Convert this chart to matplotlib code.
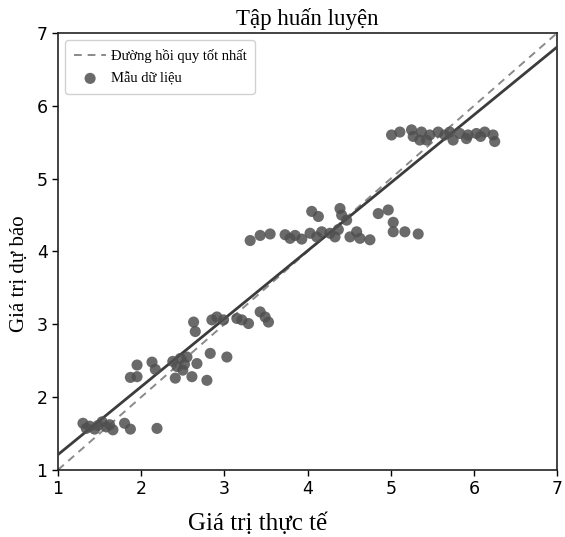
import matplotlib
matplotlib.use("Agg")
import matplotlib.pyplot as plt
import numpy as np

# ---- data ----
actual = [1.30, 1.34, 1.38, 1.44, 1.53, 1.58, 1.62, 1.66, 1.80, 1.87, 2.19, 1.48,
          1.87, 1.95, 1.95, 2.13, 2.17, 2.38, 2.43, 2.41, 2.50, 2.47, 2.55, 2.61, 2.67, 2.79, 2.83, 3.03, 2.52,
          2.63, 2.65, 2.85, 2.91, 2.99, 3.15, 3.21, 3.29, 3.43, 3.49, 3.53,
          3.31, 3.43, 3.55, 3.73, 3.79, 3.93, 4.03, 4.05, 4.13, 4.11, 4.17, 4.27, 4.33, 4.39,
          4.41, 4.47, 4.51, 4.59, 4.63, 4.75, 4.85, 4.97, 5.03, 5.03, 5.17, 5.33, 4.37, 3.85,
          5.01, 5.11, 5.25, 5.27, 5.35, 5.37, 5.43, 5.47, 5.57, 5.71, 5.75, 5.83, 5.91, 5.93,
          6.03, 6.13, 6.23, 6.25, 5.65, 6.08]
predicted = [1.64, 1.57, 1.60, 1.56, 1.66, 1.59, 1.62, 1.55, 1.64, 1.56, 1.57, 1.61,
             2.27, 2.28, 2.44, 2.48, 2.38, 2.49, 2.42, 2.26, 2.37, 2.53, 2.55, 2.28, 2.46, 2.23, 2.60, 2.55, 2.45,
             3.03, 2.90, 3.06, 3.10, 3.06, 3.08, 3.06, 3.01, 3.17, 3.10, 3.03,
             4.15, 4.22, 4.24, 4.23, 4.18, 4.17, 4.25, 4.55, 4.48, 4.20, 4.27, 4.25, 4.20, 4.59,
             4.50, 4.43, 4.20, 4.27, 4.18, 4.16, 4.52, 4.57, 4.40, 4.27, 4.27, 4.24, 4.30, 4.22,
             5.60, 5.64, 5.67, 5.58, 5.53, 5.64, 5.53, 5.60, 5.64, 5.64, 5.53, 5.62, 5.55, 5.60,
             5.62, 5.64, 5.60, 5.51, 5.60, 5.58]
fit_coef = [0.933, 0.277]          # slope, intercept of fitted line
axis_range = [1, 7]
ticks = [1, 2, 3, 4, 5, 6, 7]

title = "Tập huấn luyện"
xlabel = "Giá trị thực tế"
ylabel = "Giá trị dự báo"
label_ideal = "Đường hồi quy tốt nhất"
label_points = "Mẫu dữ liệu"

serif = ["Liberation Serif", "DejaVu Serif"]

fig = plt.figure(figsize=(5.65, 5.37), dpi=100)
ax = fig.add_axes([0.1027, 0.125, 0.8833, 0.8135])

xs = np.array(axis_range, dtype=float)
ax.plot(xs, xs, linestyle=(0, (4, 3)), color="#8a8a8a", linewidth=1.4, label=label_ideal, zorder=2)
ax.plot(xs, np.polyval(fit_coef, xs), color="#3c3c3c", linewidth=2.0, zorder=3)
ax.scatter(actual, predicted, s=64, color="#505050", alpha=0.85, edgecolors="none",
           label=label_points, zorder=4)

ax.set_xlim(*axis_range)
ax.set_ylim(*axis_range)
ax.set_xticks(ticks)
ax.set_yticks(ticks)
ax.tick_params(labelsize=12.5, length=4, width=1)
for s in ax.spines.values():
    s.set_linewidth(1.2)
    s.set_color("#222222")

ax.set_title(title, fontfamily=serif, fontsize=16.5, pad=6)
ax.set_xlabel(xlabel, fontfamily=serif, fontsize=18)
ax.xaxis.set_label_coords(0.40, -0.098)
ax.set_ylabel(ylabel, fontfamily=serif, fontsize=15)
ax.yaxis.set_label_coords(-0.058, 0.45)

leg = ax.legend(loc="upper left", prop={"family": serif, "size": 10.5},
                handlelength=2.2, handletextpad=0.3, borderpad=0.6, labelspacing=0.6,
                framealpha=0.9, edgecolor="#cccccc", fancybox=True)

fig.savefig("out.png", dpi=100)
